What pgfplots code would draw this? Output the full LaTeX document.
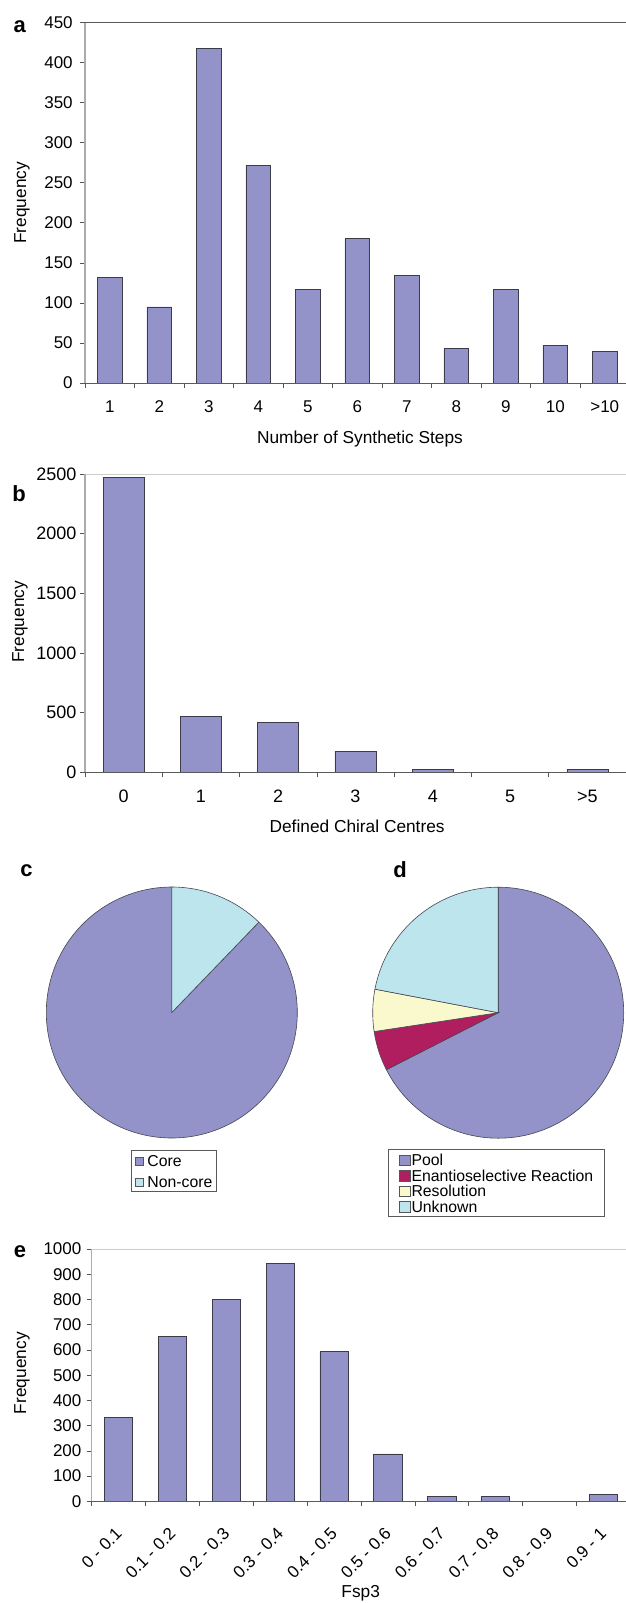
\documentclass[border=0pt]{standalone}
\usepackage{pgfplots}
\pgfplotsset{compat=1.18}
\usepackage{fontspec}
\setmainfont{Liberation Sans}

% colours
\definecolor{barfill}{RGB}{147,147,201}
\definecolor{baredge}{RGB}{60,60,72}
\definecolor{noncore}{RGB}{189,229,238}
\definecolor{resol}{RGB}{250,248,205}
\definecolor{enantio}{RGB}{176,30,96}
\definecolor{axisgrey}{RGB}{172,172,172}
\definecolor{darkline}{RGB}{90,90,90}
\definecolor{lightline}{RGB}{205,205,205}
\definecolor{tickc}{RGB}{85,85,85}
\definecolor{pieline}{RGB}{70,70,80}

% fonts
\newcommand\tickfont{\fontsize{17}{19}\selectfont}
\newcommand\tickfontb{\fontsize{18}{20}\selectfont}
\newcommand\titlefont{\fontsize{17.3}{19}\selectfont}
\newcommand\legendfont{\fontsize{15.8}{17}\selectfont}
\newcommand\panelfont{\fontsize{22}{24}\selectfont\bfseries}

% pie wedges, clockwise from twelve o'clock, values in percent
\newcommand\pierad{125.5pt}
\gdef\piesum{0}
\newcommand\pieslice[2]{%
  \pgfmathsetmacro\pieA{90-3.6*\piesum}%
  \pgfmathsetmacro\pieB{90-3.6*(\piesum+#1)}%
  \edef\temp{\noexpand\filldraw[fill=#2,draw=pieline,line width=0.6pt]
    (axis cs:0,0) -- ++(\pieA:\pierad)
    arc[start angle=\pieA,end angle=\pieB,radius=\pierad] -- cycle;}%
  \temp
  \pgfmathsetmacro\piesumnext{\piesum+#1}%
  \global\let\piesum\piesumnext}

\pgfplotsset{
  histo/.style={
    scale only axis, clip=false,
    axis line style={draw=none},
    ymin=0, ybar,
    tick pos=left,
    tick align=outside, major tick length=5pt,
    every tick/.style={draw=tickc, line width=0.6pt},
    x tick label as interval,
    every tick label/.append style={font=\tickfont},
    /pgf/number format/assume math mode=true,
    /pgf/number format/1000 sep={},
    label style={font=\titlefont},
    xlabel style={anchor=center},
    ylabel style={anchor=center},
  },
  hist bars/.style={fill=barfill, draw=baredge, line width=0.7pt},
  pie/.style={
    hide axis, x=1pt, y=1pt, clip=false,
    xmin=-130, xmax=130, ymin=-130, ymax=130,
    legend cell align=left,
    legend style={font=\legendfont, draw=darkline, line width=0.6pt,
      fill=white, anchor=north west, nodes={inner sep=0.5pt}},
  },
}

\begin{document}
\begin{tikzpicture}
\path[use as bounding box] (0,0) rectangle (625pt,-1603pt);

% (a) number of synthetic steps
\begin{axis}[histo, at={(85pt,-383pt)}, anchor=south west,
  width=544.5pt, height=360.5pt,
  xmin=0.5, xmax=11.5, ymax=450, ytick={0,50,...,450},
  xtick={0.5,1.5,...,11.5},
  xticklabels={1,2,3,4,5,6,7,8,9,10,>10},
  xticklabel style={yshift=-9.2pt},
  yticklabel style={xshift=-3.8pt},
  bar width=24.75pt,
  xlabel={Number of Synthetic Steps},
  ylabel={Frequency},
  xlabel style={at={(axis description cs:0.505,-0.1553)}},
  ylabel style={at={(axis description cs:-0.1157,0.5)}},
]
\addplot[hist bars] coordinates {(1,132) (2,95) (3,418) (4,272) (5,117) (6,180)
  (7,134) (8,43) (9,117) (10,47) (11,39)};
\draw[darkline, line width=0.8pt] (rel axis cs:0,1) -- (rel axis cs:1,1);
\draw[darkline, line width=0.8pt] (rel axis cs:0,0) -- (rel axis cs:1,0);
\draw[axisgrey, line width=1.4pt] (rel axis cs:0,0) -- (rel axis cs:0,1);
\end{axis}

% (b) defined chiral centres
\begin{axis}[histo, at={(85pt,-772pt)}, anchor=south west,
  width=541pt, height=298pt,
  xmin=-0.5, xmax=6.5, ymax=2500, ytick={0,500,...,2500},
  xtick={-0.5,0.5,...,6.5},
  xticklabels={0,1,2,3,4,5,>5},
  xticklabel style={font=\tickfontb, yshift=-9.5pt},
  yticklabel style={font=\tickfontb},
  bar width=41pt,
  xlabel={Defined Chiral Centres},
  ylabel={Frequency},
  xlabel style={at={(axis description cs:0.503,-0.1836)}},
  ylabel style={at={(axis description cs:-0.1201,0.504)}},
]
\addplot[hist bars] coordinates {(0,2472) (1,469) (2,419) (3,176) (4,25) (5,0) (6,25)};
\draw[lightline, line width=0.8pt] (rel axis cs:0,1) -- (rel axis cs:1,1);
\draw[darkline, line width=0.8pt] (rel axis cs:0,0) -- (rel axis cs:1,0);
\draw[axisgrey, line width=1.4pt] (rel axis cs:0,0) -- (rel axis cs:0,1);
\end{axis}

% (c) core / non-core
\gdef\piesum{12.2}
\begin{axis}[pie, at={(171.8pt,-1012.5pt)}, anchor=center,
  legend image code/.code={\draw[#1, draw=tickc, line width=0.5pt]
    (0pt,-5.15pt) rectangle (8.3pt,3.15pt);},
  legend style={at={(axis description cs:0.3423,-0.0277)},
    inner xsep=3.5pt, inner ysep=2.5pt, row sep=5.1pt,
    nodes={text height=13.95pt, text depth=0.65pt},
    /tikz/every odd column/.append style={column sep=3.5pt}},
]
\addlegendimage{fill=barfill}
\addlegendentry{Core}
\addlegendimage{fill=noncore}
\addlegendentry{Non-core}
\pieslice{87.8}{barfill}
\pieslice{12.2}{noncore}
\end{axis}

% (d) source of chirality
\gdef\piesum{0}
\begin{axis}[pie, at={(498.2pt,-1012.7pt)}, anchor=center,
  legend image code/.code={\draw[#1, draw=tickc, line width=0.5pt]
    (0pt,-6.35pt) rectangle (10.7pt,4.35pt);},
  legend style={at={(axis description cs:0.075,-0.0242)},
    inner xsep=10.8pt, inner ysep=2.25pt, row sep=0pt,
    nodes={text height=13.9pt, text depth=0.6pt},
    /tikz/every odd column/.append style={column sep=1pt}},
]
\addlegendimage{fill=barfill}
\addlegendentry{Pool}
\addlegendimage{fill=enantio}
\addlegendentry{Enantioselective Reaction}
\addlegendimage{fill=resol}
\addlegendentry{Resolution}
\addlegendimage{fill=noncore}
\addlegendentry{Unknown}
\pieslice{67.5}{barfill}
\pieslice{5.1}{enantio}
\pieslice{5.4}{resol}
\pieslice{22.0}{noncore}
\end{axis}

% (e) fraction of sp3 carbons
\begin{axis}[histo, at={(91.7pt,-1501.3pt)}, anchor=south west,
  width=538.5pt, height=252.3pt,
  xmin=0.5, xmax=10.5, ymax=1000, ytick={0,100,...,1000},
  xtick={0.5,1.5,...,10.5},
  xticklabels={0 - 0.1,0.1 - 0.2,0.2 - 0.3,0.3 - 0.4,0.4 - 0.5,0.5 - 0.6,
    0.6 - 0.7,0.7 - 0.8,0.8 - 0.9,0.9 - 1},
  xticklabel style={yshift=-22.3pt, xshift=2.5pt, rotate=45, anchor=east},
  yticklabel style={xshift=-1.8pt},
  bar width=28.3pt,
  xlabel={Fsp3},
  ylabel={Frequency},
  xlabel style={at={(axis description cs:0.4995,-0.3646)}},
  ylabel style={at={(axis description cs:-0.1294,0.508)}},
]
\addplot[hist bars] coordinates {(1,334) (2,654) (3,799) (4,942) (5,594) (6,188)
  (7,20) (8,20) (9,0) (10,28)};
\draw[lightline, line width=0.8pt] (rel axis cs:0,1) -- (rel axis cs:1,1);
\draw[darkline, line width=0.8pt] (rel axis cs:0,0) -- (rel axis cs:1,0);
\draw[axisgrey, line width=1.4pt] (rel axis cs:0,0) -- (rel axis cs:0,1);
\end{axis}

% panel letters
\node[font=\panelfont, anchor=base] at (19.7pt,-32.3pt) {a};
\node[font=\panelfont, anchor=base] at (19pt,-501.7pt) {b};
\node[font=\panelfont, anchor=base] at (26.4pt,-876.7pt) {c};
\node[font=\panelfont, anchor=base] at (400pt,-877.3pt) {d};
\node[font=\panelfont, anchor=base] at (20pt,-1257.3pt) {e};
\end{tikzpicture}
\end{document}
